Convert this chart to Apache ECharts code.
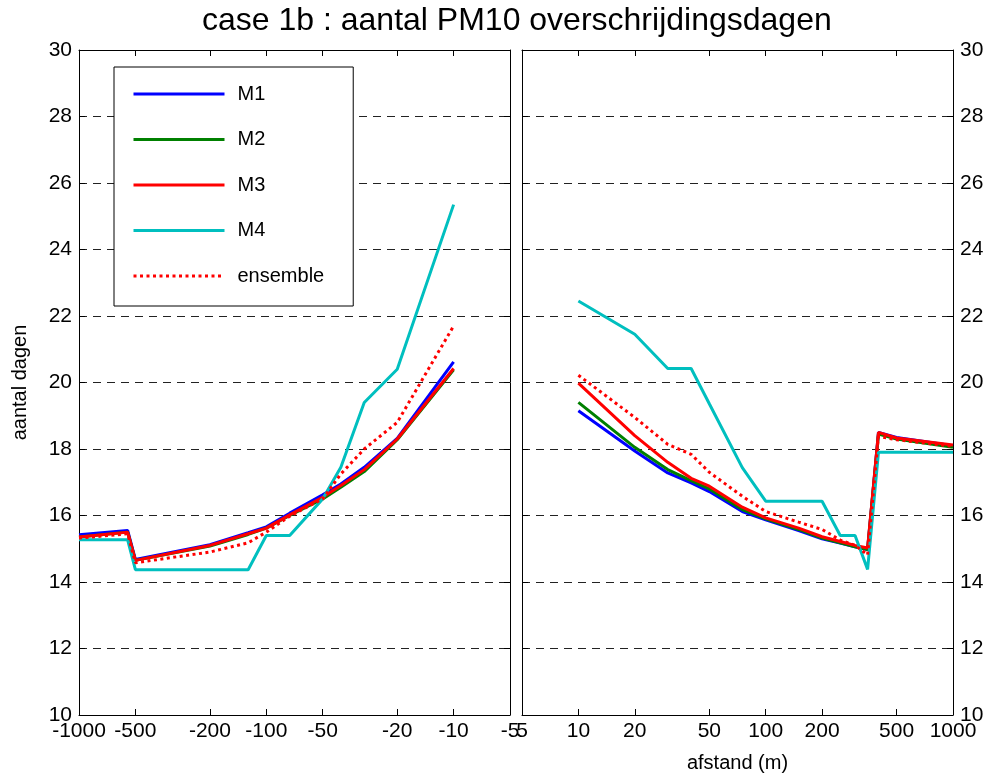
<!DOCTYPE html>
<html>
<head>
<meta charset="utf-8">
<script src="https://cdn.jsdelivr.net/npm/echarts@6/dist/echarts.min.js"></script>
<style>html,body{margin:0;padding:0;background:#fff}#c{width:984px;height:775px}</style>
</head>
<body>
<div id="c"></div>
<script>
// ---- data ----
const seriesNames = ['M1', 'M2', 'M3', 'M4', 'ensemble'];
const tickValues = [5, 10, 20, 50, 100, 200, 500, 1000];
const yTicks = [10, 12, 14, 16, 18, 20, 22, 24, 26, 28, 30];

// left panel: negative distances (m)
const leftDist = [-1000, -550, -500, -200, -125, -100, -75, -50, -40, -30, -20, -10];
const leftM1  = [15.42, 15.55, 14.68, 15.12, 15.48, 15.66, 16.07, 16.62, 16.95, 17.45, 18.32, 20.62];
const leftM2  = [15.35, 15.50, 14.65, 15.08, 15.43, 15.62, 16.00, 16.50, 16.85, 17.32, 18.28, 20.38];
const leftM3  = [15.35, 15.50, 14.65, 15.10, 15.45, 15.62, 16.02, 16.55, 16.90, 17.38, 18.30, 20.42];
const leftM4  = [15.27, 15.27, 14.37, 14.37, 14.37, 15.40, 15.40, 16.50, 17.45, 19.40, 20.40, 25.35];
const leftEns = [15.32, 15.45, 14.58, 14.90, 15.18, 15.50, 15.98, 16.50, 17.25, 18.00, 18.80, 21.70];

// right panel: positive distances (m)
const rightDist = [10, 20, 30, 40, 50, 75, 100, 150, 200, 250, 300, 350, 400, 500, 1000];
const rightM1  = [19.15, 17.94, 17.28, 16.98, 16.72, 16.12, 15.87, 15.55, 15.30, 15.17, 15.06, 14.98, 18.50, 18.35, 18.10];
const rightM2  = [19.40, 18.05, 17.38, 17.05, 16.80, 16.18, 15.90, 15.58, 15.32, 15.18, 15.06, 14.98, 18.45, 18.30, 18.05];
const rightM3  = [19.98, 18.40, 17.60, 17.12, 16.88, 16.25, 15.93, 15.62, 15.36, 15.22, 15.10, 15.02, 18.50, 18.33, 18.12];
const rightM4  = [22.45, 21.45, 20.42, 20.42, 19.36, 17.44, 16.43, 16.43, 16.43, 15.40, 15.40, 14.38, 17.90, 17.90, 17.90];
const rightEns = [20.22, 18.95, 18.14, 17.84, 17.30, 16.58, 16.12, 15.80, 15.58, 15.26, 15.10, 14.82, 18.38, 18.28, 18.08];

// ---- styling ----
const FONT = 'Liberation Sans';
const colors = { M1: '#0000ff', M2: '#008000', M3: '#ff0000', M4: '#00bfbf', ensemble: '#ff0000' };

const chart = echarts.init(document.getElementById('c'), null, { renderer: 'canvas' });

function pairs(xs, ys, neg) { return xs.map((x, i) => [neg ? Math.abs(x) : x, ys[i]]); }

function mkSeries(name, xs, ys, gi, neg) {
  return {
    name: name, type: 'line', xAxisIndex: gi * 2, yAxisIndex: gi * 2,
    data: pairs(xs, ys, neg), symbol: 'none', showSymbol: false, smooth: false, animation: false,
    lineStyle: { color: colors[name], width: 3, type: name === 'ensemble' ? [3, 3.5] : 'solid', cap: 'butt' },
    itemStyle: { color: colors[name] }
  };
}

const leftSets = [leftM1, leftM2, leftM3, leftM4, leftEns];
const rightSets = [rightM1, rightM2, rightM3, rightM4, rightEns];
const series = [];
seriesNames.forEach((n, i) => series.push(mkSeries(n, leftDist, leftSets[i], 0, true)));
seriesNames.forEach((n, i) => series.push(mkSeries(n, rightDist, rightSets[i], 1, false)));

function xAx(gi, pos, showLabel, neg, name) {
  return {
    type: 'log', gridIndex: gi, position: pos, min: 5, max: 1000, logBase: 10,
    inverse: neg,
    name: name || '', nameLocation: 'middle', nameGap: 38,
    nameTextStyle: { fontFamily: FONT, fontSize: 20, color: '#000' },
    axisLine: { show: true, onZero: false, lineStyle: { color: '#000', width: 1 } },
    axisTick: { show: true, inside: true, length: 6, customValues: tickValues, lineStyle: { color: '#000' } },
    minorTick: { show: false },
    axisLabel: {
      show: showLabel, customValues: tickValues, margin: 6,
      fontFamily: FONT, fontSize: 21, color: '#000',
      showMinLabel: true, showMaxLabel: true,
      formatter: v => (neg ? '-' : '') + v
    },
    splitLine: { show: false }
  };
}
function yAx(gi, pos, showLabel, grid) {
  return {
    type: 'value', gridIndex: gi, position: pos, min: 10, max: 30, interval: 2,
    name: gi === 0 && pos === 'left' ? 'aantal dagen' : '',
    nameLocation: 'middle', nameGap: 49, nameRotate: 90,
    nameTextStyle: { fontFamily: FONT, fontSize: 20, color: '#000' },
    axisLine: { show: true, onZero: false, lineStyle: { color: '#000', width: 1 } },
    axisTick: { show: true, inside: true, length: 6, lineStyle: { color: '#000' } },
    axisLabel: { show: showLabel, margin: 7, fontFamily: FONT, fontSize: 21, color: '#000' },
    splitLine: grid ? { show: true, lineStyle: { color: '#222', width: 1, type: [8, 6] } } : { show: false }
  };
}

const option = {
  backgroundColor: '#fff',
  animation: false,
  title: {
    text: 'case 1b : aantal PM10 overschrijdingsdagen',
    left: 197, top: 0,
    textStyle: { fontFamily: FONT, fontSize: 32, fontWeight: 'normal', color: '#000' }
  },
  legend: {
    data: seriesNames, orient: 'vertical', left: 114, top: 67,
    padding: [17, 29, 20, 18], itemWidth: 91, itemHeight: 20, itemGap: 25.5,
    borderColor: '#000', borderWidth: 1, backgroundColor: '#fff',
    itemStyle: { opacity: 0 },
    lineStyle: { width: 3 },
    textStyle: { fontFamily: FONT, fontSize: 20, color: '#000', padding: [0, 0, 0, 8] }
  },
  grid: [
    { left: 79, top: 50, width: 431, height: 665, outerBoundsMode: 'none', containLabel: false },
    { left: 522, top: 50, width: 431, height: 665, outerBoundsMode: 'none', containLabel: false }
  ],
  xAxis: [
    xAx(0, 'bottom', true, true),
    xAx(0, 'top', false, true),
    xAx(1, 'bottom', true, false, 'afstand (m)'),
    xAx(1, 'top', false, false)
  ],
  yAxis: [
    yAx(0, 'left', true, true),
    yAx(0, 'right', false, false),
    yAx(1, 'right', true, true),
    yAx(1, 'left', false, false)
  ],
  series: series
};
chart.setOption(option);
</script>
</body>
</html>
